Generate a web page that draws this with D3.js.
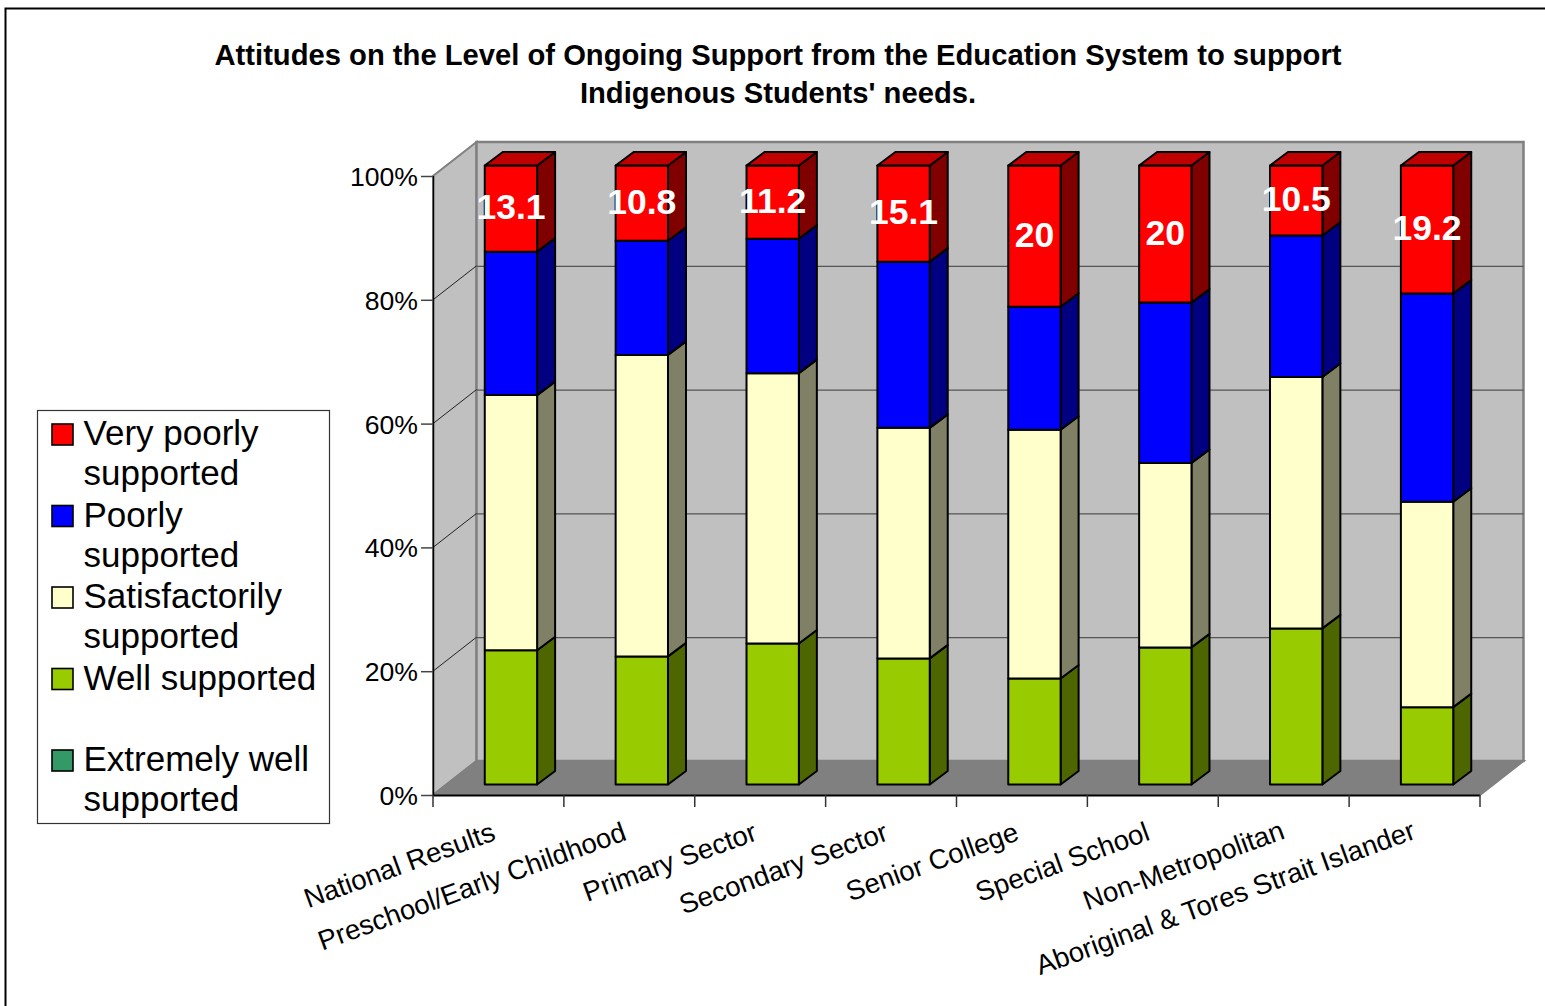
<!DOCTYPE html>
<html><head><meta charset="utf-8">
<script src="https://cdn.jsdelivr.net/npm/d3@7/dist/d3.min.js"></script>
<style>html,body{margin:0;padding:0;background:#fff}svg{display:block}text{font-family:"Liberation Sans",Arial,sans-serif}</style>
</head><body><svg id="c" width="1545" height="1006"></svg>
<script>
const titleLines = ["Attitudes on the Level of Ongoing Support from the Education System to support", "Indigenous Students' needs."];
const categories = ["National Results","Preschool/Early Childhood","Primary Sector","Secondary Sector","Senior College","Special School","Non-Metropolitan","Aboriginal & Tores Strait Islander"];
const wellSupported = [20.4,18.4,21.6,19.8,15.0,20.0,23.4,11.6];
const satisfactorily = [38.8,43.3,41.4,36.2,35.2,26.9,37.7,30.8];
const poorly = [21.8,16.4,20.6,26.1,17.4,23.4,21.2,31.2];
const veryPoorly = [13.1,10.8,11.2,15.1,20,20,10.5,19.2];
const yTicks = [0,0.2,0.4,0.6,0.8,1];
const seriesNames = ["Well supported","Satisfactorily supported","Poorly supported","Very poorly supported"];
const seriesColors = ["#99cc00","#ffffcc","#0000ff","#ff0000"];
const sideColors = ["#4d6600","#808066","#000080","#800000"];
const topColor = "#bf0000";
const legendLines = [["Very poorly","supported"],["Poorly","supported"],["Satisfactorily","supported"],["Well supported",""],["Extremely well","supported"]];
const legendColors = ["#ff0000","#0000ff","#ffffcc","#99cc00","#339966"];

const svg = d3.select("#c");
const L=433,R=1480,B=795,T=176, DX=43.5,DY=-34, GX=12.5,GY=-10.5, BX=18,BY=-13.5;
const y = d3.scaleLinear().domain([0,1]).range([B,T]);
const xBand = d3.scaleBand().domain(categories).range([L,R]).paddingInner(0.6).paddingOuter(0.3);
const xEdge = d3.scaleLinear().domain([0,categories.length]).range([L-0.5,R-0.5]);

// outer frame
svg.append("path").attr("d","M5.5,1006V8.5H1545").attr("fill","none").attr("stroke","#000").attr("stroke-width",2);

// title
svg.append("g").selectAll("text").data(titleLines).join("text")
  .attr("x",778).attr("y",(d,i)=>65+i*38).attr("text-anchor","middle")
  .attr("font-size",29.2).attr("font-weight","bold").attr("fill","#000").text(d=>d);

// walls
const g = svg.append("g");
const wallStroke="#808080";
g.append("path").attr("d",`M${L},${B}L${L+DX},${B+DY}V${T+DY}L${L},${T}Z`).attr("fill","#c0c0c0").attr("stroke",wallStroke).attr("stroke-width",2);
g.append("path").attr("d",`M${L+DX},${B+DY}H${R+DX}V${T+DY}H${L+DX}Z`).attr("fill","#c0c0c0").attr("stroke",wallStroke).attr("stroke-width",2.5);
g.append("path").attr("d",`M${L},${B}L${L+DX},${B+DY}H${R+DX}L${R},${B}Z`).attr("fill","#808080").attr("stroke",wallStroke).attr("stroke-width",2);
g.selectAll("line.grid").data(yTicks.slice(1,5)).join("line").attr("class","grid")
  .attr("x1",L+DX).attr("x2",R+DX).attr("y1",d=>y(d)+DY+0.5).attr("y2",d=>y(d)+DY+0.5).attr("stroke","#555").attr("stroke-width",1.2);
g.selectAll("line.side").data(yTicks.slice(1,5)).join("line").attr("class","side")
  .attr("x1",L).attr("x2",L+DX).attr("y1",d=>y(d)).attr("y2",d=>y(d)+DY).attr("stroke","#222").attr("stroke-width",1);

// stacked bars
const rows = categories.map((c,i)=>({c,w:wellSupported[i],s:satisfactorily[i],p:poorly[i],v:veryPoorly[i]}));
const stack = d3.stack().keys(["w","s","p","v"]).offset(d3.stackOffsetExpand)(rows);
const barsG = svg.append("g").attr("stroke","#000").attr("stroke-width",2).attr("stroke-linejoin","round");
const bw = xBand.bandwidth();
const px = d=>xBand(d.data.c)+GX;
const py = v=>y(v)+GY;
stack.forEach((ser,si)=>{
  const sg = barsG.append("g");
  sg.selectAll("path.sd").data(ser).join("path").attr("class","sd").attr("fill",sideColors[si])
    .attr("d",d=>`M${px(d)+bw},${py(d[1])}l${BX},${BY}V${py(d[0])+BY}l${-BX},${-BY}Z`);
  sg.selectAll("rect").data(ser).join("rect").attr("fill",seriesColors[si])
    .attr("x",px).attr("width",bw).attr("y",d=>py(d[1])).attr("height",d=>py(d[0])-py(d[1]));
  if(si===stack.length-1){
    sg.selectAll("path.tp").data(ser).join("path").attr("class","tp").attr("fill",topColor)
      .attr("d",d=>`M${px(d)},${py(d[1])}l${BX},${BY}h${bw}l${-BX},${-BY}Z`);
  }
});

// data labels
svg.append("g").selectAll("text").data(stack[3]).join("text")
  .attr("x",d=>px(d)+bw/2).attr("y",d=>(py(d[0])+py(d[1]))/2+10.5)
  .attr("text-anchor","middle").attr("font-size",35.5).attr("font-weight","bold").attr("fill","#fff")
  .text(d=>d.data.v);

// y axis
const ya = svg.append("g").attr("transform",`translate(${L},0)`)
  .call(d3.axisLeft(y).tickValues(yTicks).tickFormat(d3.format(".0%")).tickSize(12).tickPadding(3));
ya.select(".domain").attr("stroke","#000").attr("stroke-width",1.5).attr("d",`M0.5,${T}V${B}`);
ya.selectAll(".tick line").attr("stroke","#444").attr("stroke-width",1.5);
ya.selectAll("text").attr("font-size",26.6).attr("fill","#000").attr("dy","0.36em").style("font-family",'"Liberation Sans",Arial,sans-serif');

// x axis
const xa = svg.append("g").attr("transform",`translate(0,${B})`)
  .call(d3.axisBottom(xEdge).tickValues(d3.range(categories.length+1)).tickFormat("").tickSize(12));
xa.select(".domain").attr("stroke","#000").attr("stroke-width",2).attr("d",`M${L},0.5H${R}`);
xa.selectAll(".tick line").attr("stroke","#333").attr("stroke-width",1.5);

// category labels (the last two are cut off at their right end in the original)
const defs = svg.append("defs");
const clipEnds = {"Non-Metropolitan":1285.5,"Aboriginal & Tores Strait Islander":1416};
Object.entries(clipEnds).forEach(([k,v],i)=>{
  defs.append("clipPath").attr("id","lc"+i).append("rect").attr("x",0).attr("y",800).attr("width",v).attr("height",206);
});
svg.append("g").selectAll("g").data(categories).join("g")
  .attr("clip-path",d=>d in clipEnds ? `url(#lc${Object.keys(clipEnds).indexOf(d)})` : null)
  .append("text")
  .attr("text-anchor","end").attr("font-size",27.6).attr("fill","#000")
  .attr("transform",d=>`translate(${xBand(d)+bw/2+(d in clipEnds?2.5:-1.5)},${d in clipEnds?838:839.5}) rotate(-20)`)
  .text(d=>d);

// legend
const lg = svg.append("g");
lg.append("rect").attr("x",37.5).attr("y",410.5).attr("width",292).attr("height",413).attr("fill","#fff").attr("stroke","#333").attr("stroke-width",1.2);
const ly = d3.scalePoint().domain(legendLines.map((d,i)=>i)).range([424,750]);
const entry = lg.selectAll("g").data(legendLines).join("g").attr("transform",(d,i)=>`translate(0,${ly(i)})`);
entry.append("rect").attr("x",52).attr("y",0).attr("width",21).attr("height",21).attr("fill",(d,i)=>legendColors[i]).attr("stroke","#000").attr("stroke-width",1.6);
entry.selectAll("text").data(d=>d).join("text").attr("x",83.5).attr("y",(d,i)=>21+i*40).attr("font-size",35).attr("fill","#000").text(d=>d);
</script></body></html>
